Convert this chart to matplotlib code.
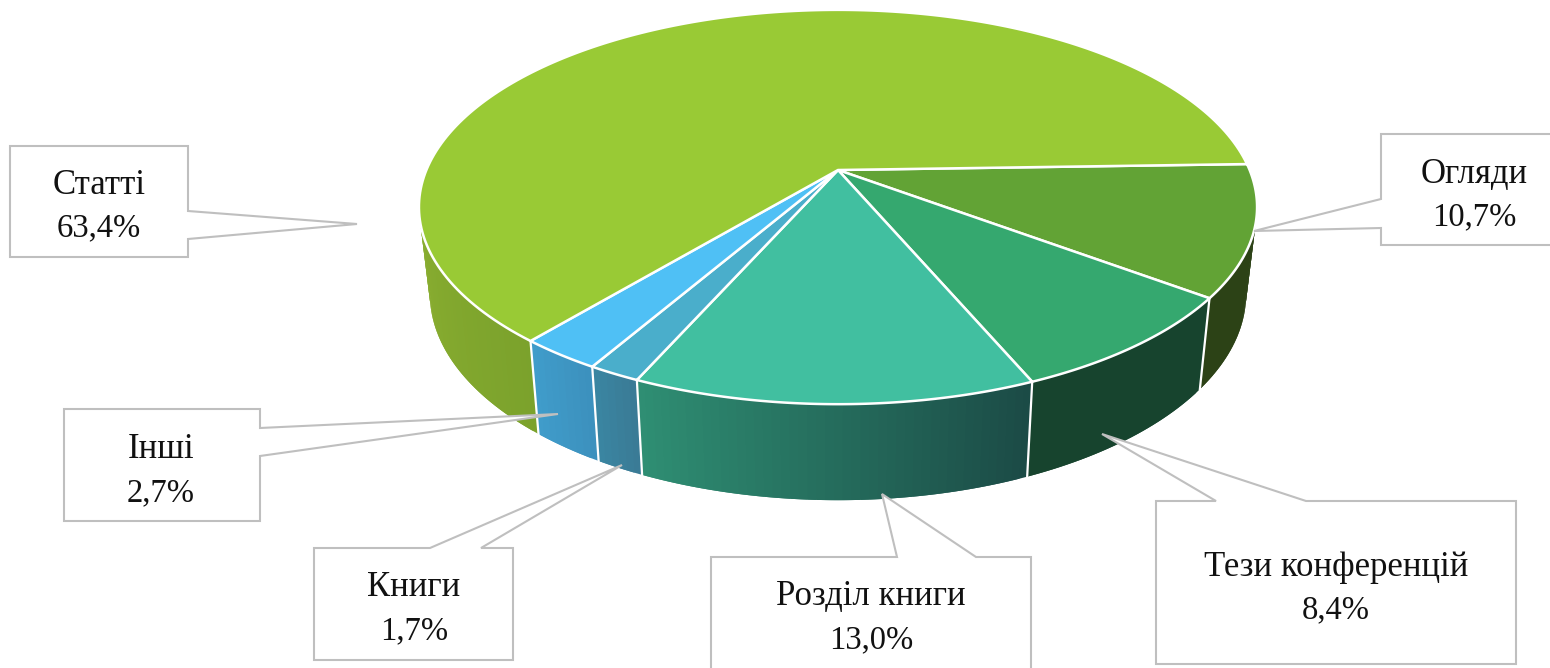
import matplotlib
matplotlib.use("Agg")
import matplotlib.pyplot as plt
from matplotlib.patches import Polygon
import numpy as np

# slices, clockwise from the right side of the disc
names = ["Огляди", "Тези конференцій", "Розділ книги", "Книги", "Інші", "Статті"]
shares = [10.7, 8.4, 13.0, 1.7, 2.7, 63.4]

top_colors = ["#62a335", "#35a86f", "#41bfa0", "#4aaecb", "#4fc0f5", "#99ca35"]
wall_from = ["#2c4216", "#17442e", "#1b4a45", "#3a7a95", "#3c90bd", "#7ba22c"]
wall_to = ["#2c4216", "#17442e", "#2f8f74", "#3a86a2", "#409dcb", "#8aae30"]

# callouts in pixels: box left, top, right, bottom, then the pointer
boxes = [
    (1381, 134, 1552, 245, [(1381, 199), (1254, 231), (1381, 228)], "left"),
    (1156, 501, 1516, 664, [(1216, 501), (1102, 434), (1306, 501)], "top"),
    (711, 557, 1031, 672, [(897, 557), (882, 494), (976, 557)], "top"),
    (314, 548, 513, 660, [(430, 548), (622, 465), (481, 548)], "top"),
    (64, 409, 260, 521, [(260, 428), (558, 414), (260, 456)], "right"),
    (10, 146, 188, 257, [(188, 211), (357, 224), (188, 239)], "right"),
]
text_xy = [(1474, 171), (1336, 564), (871, 594), (414, 585), (161, 447), (99, 182)]

cx, cy = 838, 170
a, b, k = 411.6, 190.2, 0.1878
start = 1.8


def top_pt(t):
    t = np.radians(t)
    x, s = np.cos(t), -np.sin(t)
    d = 1 - k * s
    return cx + a * x / d, cy + b * s / d


def low_pt(t):
    x, y = top_pt(t)
    return cx + 0.974 * (x - cx), cy + 1.047 * (y - cy) + 85


def mix(c0, c1, f):
    c0 = np.array(matplotlib.colors.to_rgb(c0))
    c1 = np.array(matplotlib.colors.to_rgb(c1))
    return tuple(c0 + (c1 - c0) * f)


fig = plt.figure(figsize=(15.5, 6.68), dpi=100)
ax = fig.add_axes([0, 0, 1, 1])
ax.set_xlim(0, 1550)
ax.set_ylim(668, 0)
ax.axis("off")

sweep = np.array(shares) / sum(shares) * 360
ends = start - np.cumsum(sweep)
begins = ends + sweep

# side wall, only the front half can be seen
vis_a, vis_b = -10.7, -169.3
for i in range(len(names)):
    t0 = min(begins[i], vis_a)
    t1 = max(ends[i], vis_b)
    if t0 <= t1:
        continue
    steps = max(2, int(t0 - t1))
    ts = np.linspace(t0, t1, steps + 1)
    for j in range(steps):
        # each strip runs under the next one so no pale gaps show
        t2 = ts[min(j + 2, steps)]
        arc = np.linspace(ts[j], t2, 5)
        q = [top_pt(u) for u in arc] + [low_pt(u) for u in arc[::-1]]
        col = mix(wall_from[i], wall_to[i], (j + 0.5) / steps)
        ax.add_patch(Polygon(q, closed=True, fc=col, ec="none", zorder=2))

# seams between the wall pieces
for t in ends:
    if vis_b < t < vis_a:
        x0, y0 = top_pt(t)
        x1, y1 = low_pt(t)
        ax.plot([x0, x1], [y0, y1], color="white", lw=1.6, zorder=3)

# top face
for i in range(len(names)):
    ts = np.linspace(begins[i], ends[i], 200)
    pts = [(cx, cy)] + [top_pt(t) for t in ts]
    ax.add_patch(Polygon(pts, closed=True, fc=top_colors[i], ec="white", lw=1.8,
                         joinstyle="round", zorder=4))

# callouts and labels
for i in range(len(names)):
    l, t, r, bt, ptr, side = boxes[i]
    if side == "top":
        pts = [(l, t), ptr[0], ptr[1], ptr[2], (r, t), (r, bt), (l, bt)]
    elif side == "right":
        pts = [(l, t), (r, t), ptr[0], ptr[1], ptr[2], (r, bt), (l, bt)]
    else:
        pts = [(l, t), (r, t), (r, bt), (l, bt), ptr[2], ptr[1], ptr[0]]
    ax.add_patch(Polygon(pts, closed=True, fc="white", ec="#bfbfbf", lw=1.5, zorder=5))
    tx, ty = text_xy[i]
    val = f"{shares[i]:.1f}%".replace(".", ",")
    ax.text(tx, ty + 3, names[i], ha="center", va="center", fontsize=25,
            family="Liberation Serif", color="#111111", zorder=6)
    ax.text(tx, ty + 46, val, ha="center", va="center", fontsize=23.5,
            family="Liberation Serif", color="#111111", zorder=6)

fig.savefig("out.png", dpi=100)
